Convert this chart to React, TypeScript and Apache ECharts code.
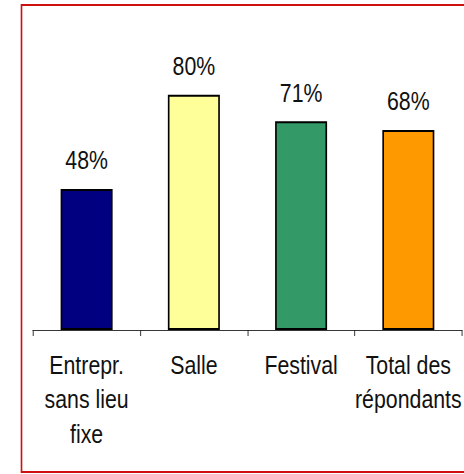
import React, { useEffect, useRef } from "react";
import * as echarts from "echarts";

const categories = ["Entrepr.\nsans lieu\nfixe", "Salle", "Festival", "Total des\nrépondants"];
const values = [48, 80, 71, 68];
const barColors = ["#000080", "#FFFF99", "#339966", "#FF9900"];
const yMin = 0;
const yMax = 100;

const FONT = "'Liberation Sans', Arial, sans-serif";
// Arial Narrow is not installed: compress the whole drawing horizontally instead.
const SX = 0.82;
const W = 464;
const H = 474;
const IW = W / SX;

export default function App() {
  const ref = useRef<HTMLDivElement>(null);
  useEffect(() => {
    document.body.style.margin = "0";
    const chart = echarts.init(ref.current!, null, { renderer: "svg" });
    const px = (x: number) => x / SX;
    chart.setOption({
      animation: false,
      backgroundColor: "#ffffff",
      grid: { left: px(33), right: IW - px(462), top: 36, bottom: 144 },
      graphic: [
        {
          type: "rect",
          silent: true,
          z: 100,
          shape: { x: px(21.5), y: 5, width: 600, height: 467 },
          style: { fill: "none", stroke: "#d01010", lineWidth: 2 },
        },
      ],
      xAxis: {
        type: "category",
        data: categories,
        boundaryGap: true,
        axisLine: { show: true, lineStyle: { color: "#222", width: 1 } },
        axisTick: { show: true, length: 6, interval: 0, lineStyle: { color: "#222" } },
        axisLabel: {
          interval: 0,
          margin: 17,
          color: "#111",
          fontFamily: FONT,
          fontSize: 26,
          lineHeight: 34.5,
          align: "center",
        },
      },
      yAxis: {
        type: "value",
        min: yMin,
        max: yMax,
        show: false,
        splitLine: { show: false },
      },
      series: [
        {
          type: "bar",
          barWidth: px(52),
          data: values.map((v, i) => ({
            value: v,
            itemStyle: { color: barColors[i], borderColor: "#000", borderWidth: 2 },
          })),
          label: {
            show: true,
            position: "top",
            distance: 16,
            formatter: "{c}%",
            color: "#111",
            fontFamily: FONT,
            fontSize: 26,
          },
        },
      ],
    });
    return () => chart.dispose();
  }, []);
  return (
    <div style={{ position: "absolute", left: 0, top: 0, width: W, height: H, overflow: "hidden" }}>
      <div
        ref={ref}
        style={{ width: IW, height: H, transform: `scaleX(${SX})`, transformOrigin: "0 0" }}
      />
    </div>
  );
}
